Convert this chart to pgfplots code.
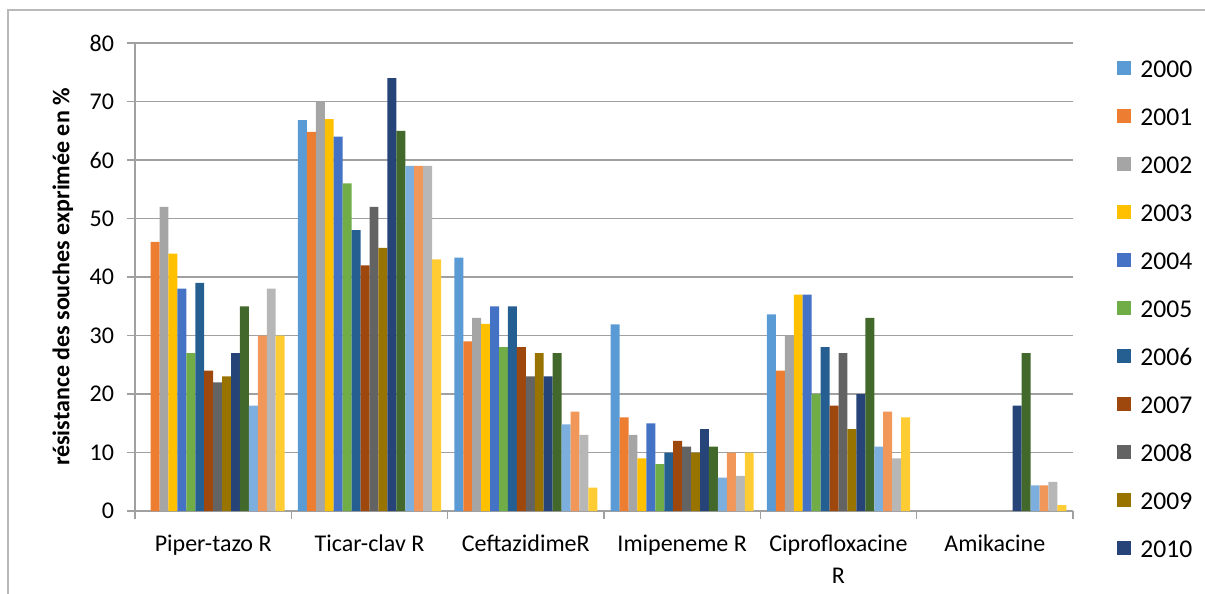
\documentclass[border=0pt]{standalone}
\usepackage{fontspec}
\setmainfont{Carlito}
\usepackage{pgfplots}
\usepackage{pgfplotstable}
\pgfplotsset{compat=1.18}

\definecolor{c00}{HTML}{5B9BD5}
\definecolor{c01}{HTML}{ED7D31}
\definecolor{c02}{HTML}{A5A5A5}
\definecolor{c03}{HTML}{FFC000}
\definecolor{c04}{HTML}{4472C4}
\definecolor{c05}{HTML}{70AD47}
\definecolor{c06}{HTML}{255E91}
\definecolor{c07}{HTML}{9E480E}
\definecolor{c08}{HTML}{636363}
\definecolor{c09}{HTML}{997300}
\definecolor{c10}{HTML}{264478}
\definecolor{c11}{HTML}{43682B}
\definecolor{c12}{HTML}{7CAFDD}
\definecolor{c13}{HTML}{F1975A}
\definecolor{c14}{HTML}{B7B7B7}
\definecolor{c15}{HTML}{FFCD33}
\definecolor{gridc}{HTML}{A0A0A0}

% one row per antibiotic, one column per year (nan = no bar)
\pgfplotstableread{
x   a00  a01  a02 a03 a04 a05 a06 a07 a08 a09 a10 a11 a12  a13  a14 a15
0.5 nan  46   52  44  38  27  39  24  22  23  27  35  18   30   38  30
1.5 66.8 64.8 70  67  64  56  48  42  52  45  74  65  59   59   59  43
2.5 43.3 29   33  32  35  28  35  28  23  27  23  27  14.8 17   13  4
3.5 31.9 16   13  9   15  8   10  12  11  10  14  11  5.7  10   6   10
4.5 33.6 24   30  37  37  20  28  18  27  14  20  33  11   17   9   16
5.5 nan  nan  nan nan nan nan nan nan nan nan 18  27  4.4  4.4  5   1
}\data

\begin{document}
\begin{tikzpicture}
\useasboundingbox (-67.5pt,-41.5pt) rectangle (535pt,255.5pt);
\clip (-67.5pt,-41.5pt) rectangle (535pt,255.5pt);
\begin{axis}[
    scale only axis,
    width=469pt, height=234pt,
    ybar=0pt, bar width=4.47pt,
    xmin=0, xmax=6, ymin=0, ymax=80,
    ytick={0,10,...,80},
    xtick={0.5,1.5,...,5.5},
    xticklabels={Piper-tazo R, Ticar-clav R, CeftazidimeR, Imipeneme R, Ciprofloxacine\\R, Amikacine},
    minor xtick={0,1,...,6},
    major x tick style={draw=none},
    minor x tick style={draw=gridc, line width=0.7pt},
    y tick style={draw=gridc, line width=0.7pt},
    tick align=outside,
    major tick length=4pt, minor tick length=4pt,
    axis x line*=bottom, axis y line*=left,
    axis line style={draw=gridc, line width=0.7pt, -},
    ymajorgrids,
    major grid style={draw=gridc, line width=0.7pt},
    /pgf/number format/assume math mode=true,
    tick label style={font=\fontsize{12}{16}\selectfont, black},
    xticklabel style={align=center, yshift=-4.5pt},
    yticklabel style={xshift=-3pt},
    ylabel={résistance des souches exprimée en \%},
    ylabel style={font=\bfseries\fontsize{12}{14}\selectfont, at={(axis description cs:-0.0768,0.5)}, anchor=center},
    legend style={draw=none, fill=none, at={(axis description cs:1,1)}, xshift=19pt, yshift=-5.5pt, anchor=north west,
        font=\fontsize{12.8}{12.8}\selectfont, row sep=12pt,
        nodes={inner sep=1pt, text height=8.5pt, text depth=1.5pt},
        /tikz/every odd column/.append style={column sep=3.5pt}},
    legend cell align=left,
    legend image code/.code={\fill[#1] (0pt,-2.2pt) rectangle (7pt,4.8pt);},
]
\addplot[fill=c00, draw=none] table[x=x, y=a00]{\data}; \addlegendentry{2000}
\addplot[fill=c01, draw=none] table[x=x, y=a01]{\data}; \addlegendentry{2001}
\addplot[fill=c02, draw=none] table[x=x, y=a02]{\data}; \addlegendentry{2002}
\addplot[fill=c03, draw=none] table[x=x, y=a03]{\data}; \addlegendentry{2003}
\addplot[fill=c04, draw=none] table[x=x, y=a04]{\data}; \addlegendentry{2004}
\addplot[fill=c05, draw=none] table[x=x, y=a05]{\data}; \addlegendentry{2005}
\addplot[fill=c06, draw=none] table[x=x, y=a06]{\data}; \addlegendentry{2006}
\addplot[fill=c07, draw=none] table[x=x, y=a07]{\data}; \addlegendentry{2007}
\addplot[fill=c08, draw=none] table[x=x, y=a08]{\data}; \addlegendentry{2008}
\addplot[fill=c09, draw=none] table[x=x, y=a09]{\data}; \addlegendentry{2009}
\addplot[fill=c10, draw=none] table[x=x, y=a10]{\data}; \addlegendentry{2010}
% the remaining years have no visible legend entry in the reference
\addplot[fill=c11, draw=none] table[x=x, y=a11]{\data};
\addplot[fill=c12, draw=none] table[x=x, y=a12]{\data};
\addplot[fill=c13, draw=none] table[x=x, y=a13]{\data};
\addplot[fill=c14, draw=none] table[x=x, y=a14]{\data};
\addplot[fill=c15, draw=none] table[x=x, y=a15]{\data};
\end{axis}
% outer chart frame, cut off at the right and bottom
\draw[gray!55, line width=0.6pt] (-63.5pt,-50pt) -- (-63.5pt,250.5pt) -- (545pt,250.5pt);
\end{tikzpicture}
\end{document}
